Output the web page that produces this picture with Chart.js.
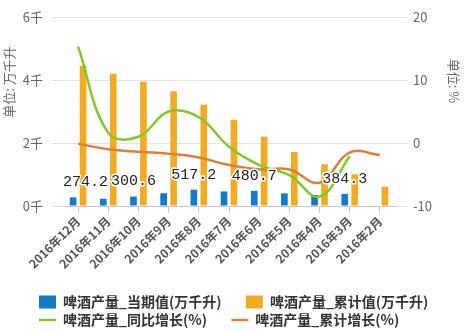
<!DOCTYPE html>
<html>
<head>
<meta charset="utf-8">
<script src="https://cdn.jsdelivr.net/npm/chart.js@4.4.1/dist/chart.umd.min.js"></script>
<style>
  html, body { margin: 0; padding: 0; background: #fff; }
</style>
</head>
<body>
<canvas id="beer-chart" width="465" height="333"></canvas>
<script>
// categories, newest first as in the source
const months = ['2016年12月', '2016年11月', '2016年10月', '2016年9月', '2016年8月', '2016年7月',
  '2016年6月', '2016年5月', '2016年4月', '2016年3月', '2016年2月'];
// 当期值 (万千升)
const monthValues = [274.2, 228, 300.6, 405, 517.2, 462, 480.7, 400, 350, 384.3, null];
// 累计值 (万千升)
const totalValues = [4454, 4200, 3946, 3640, 3217, 2740, 2200, 1714, 1324, 1006, 613];
// 同比增长 (%)
const yoyGrowth = [15.3, 1.6, 1.0, 5.0, 4.1, -0.6, -3.5, -5.1, -8.5, -2.1, null];
// 累计增长 (%)
const totalGrowth = [-0.1, -1.0, -1.4, -1.7, -2.3, -3.5, -4.2, -4.2, -6.3, -1.5, -1.9];
// bars that carry a value label
const labelledMonths = [0, 2, 4, 6, 9];
const leftTicks = [0, 2000, 4000, 6000];
const rightTicks = [-10, 0, 10, 20];

const colors = {
  blue: '#167ac6',
  gold: '#f2ab24',
  green: '#7fc92a',
  rust: '#d9813c',
  grid: '#e3e3e3',
  axis: '#c4c4c4',
  muted: '#666',
  text: '#333'
};

Chart.defaults.font.family = '"Noto Sans CJK SC", "Noto Sans", sans-serif';

/**
 * Value labels over the monthly bars plus the two axis titles.
 */
const extraText = {
  id: 'extra-text',
  beforeDraw(chart) {
    // legend rows start under the plot, not at the canvas edge
    if (chart.legend) chart.legend.left = 35;
  },
  afterDatasetsDraw(chart) {
    const { ctx, chartArea } = chart;
    const bars = chart.getDatasetMeta(0).data;
    ctx.save();
    ctx.font = '15px "Liberation Mono", monospace';
    ctx.textAlign = 'left';
    ctx.textBaseline = 'middle';
    ctx.lineJoin = 'round';
    labelledMonths.forEach(i => {
      const bar = bars[i];
      const text = monthValues[i].toFixed(1);
      const w = ctx.measureText(text).width;
      const x = Math.max(chartArea.left, bar.x - w / 2);
      const y = bar.y - 15;
      ctx.strokeStyle = '#fff';
      ctx.lineWidth = 3;
      ctx.strokeText(text, x, y);
      ctx.fillStyle = '#222';
      ctx.fillText(text, x, y);
    });

    ctx.font = '13px "Noto Sans CJK SC"';
    ctx.fillStyle = colors.muted;
    ctx.textAlign = 'center';
    ctx.save();
    ctx.translate(9, 82);
    ctx.rotate(-Math.PI / 2);
    ctx.fillText('单位: 万千升', 0, 0);
    ctx.restore();
    ctx.save();
    ctx.translate(454, 81);
    ctx.rotate(Math.PI / 2);
    ctx.fillText('单位: %', 0, 0);
    ctx.restore();
    ctx.restore();
  }
};

new Chart(document.getElementById('beer-chart'), {
  data: {
    labels: months,
    datasets: [
      {
        type: 'bar',
        label: '啤酒产量_当期值(万千升)',
        data: monthValues,
        backgroundColor: colors.blue,
        borderWidth: 0,
        pointStyle: 'rect',
        categoryPercentage: 0.66,
        barPercentage: 0.67,
        yAxisID: 'y',
        order: 2
      },
      {
        type: 'bar',
        label: '啤酒产量_累计值(万千升)',
        data: totalValues,
        backgroundColor: colors.gold,
        borderWidth: 0,
        pointStyle: 'rect',
        categoryPercentage: 0.66,
        barPercentage: 0.67,
        yAxisID: 'y',
        order: 2
      },
      {
        type: 'line',
        label: '啤酒产量_同比增长(%)',
        data: yoyGrowth,
        borderColor: colors.green,
        backgroundColor: colors.green,
        borderWidth: 2.5,
        pointRadius: 0,
        pointStyle: 'line',
        tension: 0.4,
        yAxisID: 'y1',
        order: 0
      },
      {
        type: 'line',
        label: '啤酒产量_累计增长(%)',
        data: totalGrowth,
        borderColor: colors.rust,
        backgroundColor: colors.rust,
        borderWidth: 2.5,
        pointRadius: 0,
        pointStyle: 'line',
        tension: 0.4,
        yAxisID: 'y1',
        order: 1
      }
    ]
  },
  options: {
    responsive: false,
    animation: false,
    devicePixelRatio: 1,
    layout: { padding: { left: 0, right: 0, top: 17, bottom: -4 } },
    plugins: {
      tooltip: { enabled: false },
      legend: {
        position: 'bottom',
        align: 'start',
        labels: {
          usePointStyle: true,
          pointStyleWidth: 17,
          boxHeight: 13,
          padding: 4,
          color: colors.text,
          font: { size: 14, weight: 'bold' },
          sort: (a, b) => a.datasetIndex - b.datasetIndex,
          generateLabels(chart) {
            const items = Chart.defaults.plugins.legend.labels.generateLabels(chart);
            items.forEach(item => { item.text += '\u3000  '; });
            return items;
          }
        }
      }
    },
    scales: {
      x: {
        offset: true,
        grid: { display: true, drawOnChartArea: false, offset: false, color: colors.axis, tickLength: 7 },
        border: { display: true, color: colors.axis },
        ticks: {
          autoSkip: false,
          maxRotation: 45,
          minRotation: 45,
          padding: 1,
          color: '#555',
          font: { size: 12, weight: 'bold' }
        },
        afterFit(scale) {
          scale.height = 85;
          scale.paddingLeft = 0;
          scale.paddingRight = 0;
        }
      },
      y: {
        position: 'left',
        min: 0,
        max: 6000,
        grid: { color: colors.grid, tickLength: 11 },
        border: { display: false },
        afterBuildTicks(scale) { scale.ticks = leftTicks.map(v => ({ value: v })); },
        ticks: {
          padding: 9,
          color: colors.muted,
          font: { size: 13 },
          callback: v => (v / 1000) + '千'
        },
        afterFit(scale) { scale.width = 63; }
      },
      y1: {
        position: 'right',
        min: -10,
        max: 20,
        grid: { color: colors.grid, drawOnChartArea: false, tickLength: 12 },
        border: { display: false },
        afterBuildTicks(scale) { scale.ticks = rightTicks.map(v => ({ value: v })); },
        ticks: {
          padding: 6,
          color: colors.muted,
          font: { size: 13 }
        },
        afterFit(scale) { scale.width = 70; }
      }
    }
  },
  plugins: [extraText]
});
</script>
</body>
</html>
